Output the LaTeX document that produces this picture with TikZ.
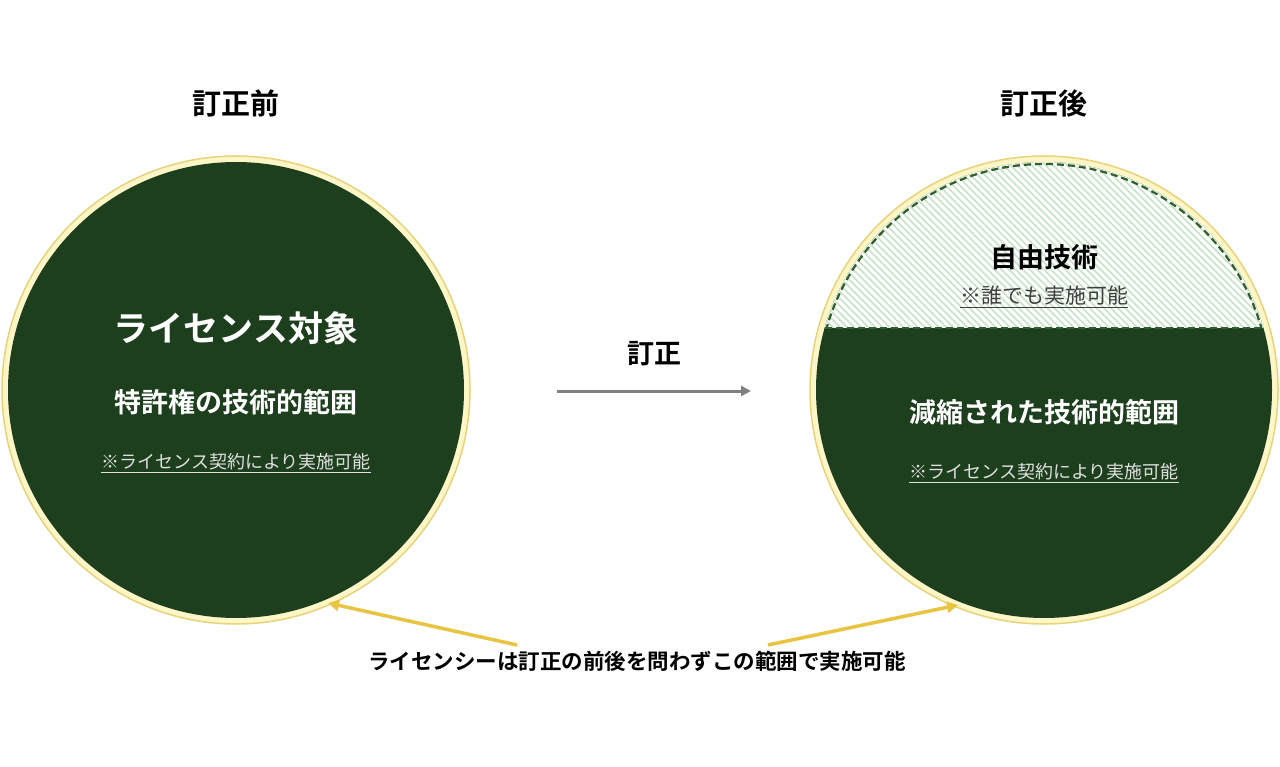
\documentclass[tikz,border=0pt]{standalone}
\usepackage{fontspec}
\setmainfont{Noto Sans CJK JP}[BoldFont={Noto Sans CJK JP Bold}]
\usetikzlibrary{arrows.meta,patterns.meta,calc}

\definecolor{darkgreen}{HTML}{1D3F1D}
\definecolor{cream}{HTML}{FFF6C8}
\definecolor{ringgold}{HTML}{E8D27A}
\definecolor{arrowgold}{HTML}{E9C441}
\definecolor{hatchgreen}{HTML}{C6E3C6}
\definecolor{dashgreen}{HTML}{2F5E2F}

\tikzset{
  title/.style={font=\bfseries\fontsize{29}{34}\selectfont, text=black},
  headline/.style={font=\bfseries\fontsize{27}{32}\selectfont, text=white},
  note/.style={font=\fontsize{18}{22}\selectfont, text=white!88!black},
  goldarrow/.style={draw=arrowgold, line width=3.5pt, -{Triangle[length=11pt,width=11pt]}},
}

\begin{document}
\begin{tikzpicture}[x=1pt, y=-1pt]

\def\r{234}
\def\ri{228}
\def\yc{390}
\def\xl{236}
\def\xr{1044}
\def\ycut{328}

\useasboundingbox (0,0) rectangle (1280,767);
\fill[white] (0,0) rectangle (1280,767);

% before
\draw[fill=cream, draw=ringgold, line width=1.5pt] (\xl,\yc) circle (\r);
\fill[darkgreen] (\xl,\yc) circle (\ri);

% after
\draw[fill=cream, draw=ringgold, line width=1.5pt] (\xr,\yc) circle (\r);
\fill[darkgreen] (\xr,\yc) circle (\ri);
\begin{scope}
\clip (\xr-\r,\yc-\r) rectangle (\xr+\r,\ycut);
\fill[white] (\xr,\yc) circle (\ri);
\fill[pattern={Lines[angle=-45,distance=5pt,line width=1.6pt]}, pattern color=hatchgreen] (\xr,\yc) circle (\ri);
\draw[dashgreen, line width=2.2pt, dash pattern=on 7pt off 4pt] (\xr,\yc) circle (\ri-2);
\end{scope}
\draw[dashgreen, line width=2.2pt, dash pattern=on 7pt off 4pt] ($(\xr,\ycut)+(-219.4,0)$) -- ($(\xr,\ycut)+(219.4,0)$);

% texts
\node[title] (before) at (\xl,103) {訂正前};
\node[title] (after) at (\xr,103) {訂正後};

\node[headline, font=\bfseries\fontsize{35}{40}\selectfont] (target) at (\xl,328) {ライセンス対象};
\node[headline] (scope) at (\xl,402) {特許権の技術的範囲};
\node[note] (licl) at (\xl,463) {\underline{※ライセンス契約により実施可能}};

\node[headline, text=black] (free) at (\xr,257) {自由技術};
\node[note, text=black!75, font=\fontsize{21}{25}\selectfont] (anyone) at (\xr,297) {\underline{※誰でも実施可能}};
\node[headline] (reduced) at (\xr,412) {減縮された技術的範囲};
\node[note] (licr) at (\xr,473) {\underline{※ライセンス契約により実施可能}};

\node[title, font=\bfseries\fontsize{27}{32}\selectfont] (corr) at (654,354) {訂正};
\coordinate (a1) at (557,391);
\coordinate (a2) at (751,391);
\draw[draw=black!50, line width=3pt, -{Triangle[length=10pt,width=10pt]}] (a1) -- (a2);

\node[font=\bfseries\fontsize{21.5}{25}\selectfont] (bottom) at (637,661) {ライセンシーは訂正の前後を問わずこの範囲で実施可能};
\coordinate (g1) at (517,645);
\coordinate (g2) at (328,603);
\coordinate (g3) at (768,645);
\coordinate (g4) at (958,605);
\draw[goldarrow] (g1) -- (g2);
\draw[goldarrow] (g3) -- (g4);

\end{tikzpicture}
\end{document}
